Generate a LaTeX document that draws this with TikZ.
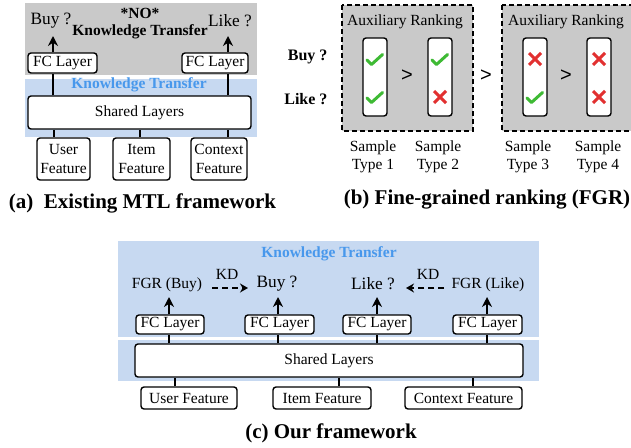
\documentclass[tikz,border=0pt]{standalone}
\usepackage{fontspec}
\setmainfont{Liberation Serif}
\newfontfamily\gtfont{Liberation Sans}
\usetikzlibrary{arrows.meta,calc}

\definecolor{panelgray}{RGB}{201,201,201}
\definecolor{ktblue}{RGB}{199,217,241}
\definecolor{kttext}{RGB}{72,152,236}
\definecolor{okgreen}{RGB}{62,186,52}
\definecolor{nored}{RGB}{226,48,48}

\tikzset{
  base/.style={font=\fontsize{15.5}{18.4}\selectfont},
  task/.style={font=\fontsize{17.3}{20}\selectfont},
  boldtxt/.style={font=\fontsize{15.5}{18.4}\selectfont\bfseries},
  qbold/.style={font=\fontsize{16}{19}\selectfont\bfseries},
  caption/.style={font=\fontsize{21}{24}\selectfont\bfseries},
  gtsign/.style={font=\fontsize{20}{22}\selectfont\gtfont},
  blk/.style={draw=black, line width=1.4pt, fill=white, rounded corners=3pt,
              inner sep=1pt, align=center, base},
  card/.style={draw=black, line width=1.4pt, fill=white, rounded corners=3pt,
               minimum width=24pt, minimum height=78pt, inner sep=0pt},
  dashbox/.style={draw=black, line width=1.6pt, dash pattern=on 5pt off 3pt, fill=panelgray},
  link/.style={line width=1.4pt},
  up/.style={line width=1.8pt, -{Stealth[length=10pt,width=10pt]}},
  kd/.style={line width=1.8pt, dash pattern=on 6pt off 4pt, -{Stealth[length=8pt,width=9pt]}},
  tick/.style={okgreen, line width=3pt, line cap=round, line join=round},
  xmark/.style={nored, line width=3pt},
}

% green tick and red cross centred on a given point
\newcommand{\okmark}[1]{\draw[tick] ($(#1)+(-8,1)$) -- ++(4.5,4.5) -- ++(11,-10);}
\newcommand{\nomark}[1]{\draw[xmark] ($(#1)+(-6,-6)$) -- ++(12,12) ($(#1)+(-6,6)$) -- ++(12,-12);}

\begin{document}
\begin{tikzpicture}[x=1pt, y=-1pt]
\useasboundingbox (0,0) rectangle (631,447);
\clip (0,0) rectangle (631,447);

% ---------------- (a) existing MTL framework ----------------
\fill[panelgray] (25,3) rectangle (257,75);
\fill[ktblue] (25,79) rectangle (257,137);

\node[boldtxt] (noA) at (140,13) {*NO*};
\node[boldtxt] (ktA) at (140,32) {Knowledge Transfer};
\node[task] (buyA) at (51,21) {Buy ?};
\node[task] (likeA) at (230,21) {Like ?};
\node[boldtxt, text=kttext] (ktbA) at (139,85) {Knowledge Transfer};

\node[blk, minimum width=69pt, minimum height=20pt] (fcA1) at (62.5,63) {FC Layer};
\node[blk, minimum width=66pt, minimum height=20pt] (fcA2) at (215,63) {FC Layer};
\node[blk, minimum width=223pt, minimum height=33pt] (shA) at (139.5,112.5) {Shared Layers};
\node[blk, minimum width=53pt, minimum height=42pt] (userA) at (63.5,159) {User\\Feature};
\node[blk, minimum width=57pt, minimum height=42pt] (itemA) at (141.5,159) {Item\\Feature};
\node[blk, minimum width=56pt, minimum height=42pt] (ctxA) at (219,159) {Context\\Feature};

\coordinate (colA1) at (53,0);
\coordinate (colA2) at (228,0);
\coordinate (tipA1) at (53,36);
\coordinate (tipA2) at (228,36);

\draw[link] (userA.north -| 54,0) -- (shA.south -| 54,0);
\draw[link] (itemA.north -| 140,0) -- (shA.south -| 140,0);
\draw[link] (ctxA.north -| colA2) -- (shA.south -| colA2);
\draw[link] (shA.north -| colA1) -- (fcA1.south -| colA1);
\draw[link] (shA.north -| colA2) -- (fcA2.south -| colA2);
\draw[up] (fcA1.north -| colA1) -- (tipA1);
\draw[up] (fcA2.north -| colA2) -- (tipA2);

\node[caption] (capA) at (142.5,203) {(a)\ \ Existing MTL framework};

% ---------------- (b) fine-grained ranking ----------------
\draw[dashbox] (342,5) rectangle (473,131);
\draw[dashbox] (502,5) rectangle (650,131);

\node[base] (auxB1) at (405,22) {Auxiliary Ranking};
\node[base] (auxB2) at (566,22) {Auxiliary Ranking};

\node[qbold, anchor=east] (buyB) at (331,57) {Buy ?};
\node[qbold, anchor=east] (likeB) at (331,99) {Like ?};

\node[card] (c1) at (375,77) {};
\node[card] (c2) at (440,77) {};
\node[card] (c3) at (535,77) {};
\node[card] (c4) at (599,77) {};

\node[gtsign] (gt1) at (407,76) {>};
\node[gtsign] (gt2) at (486,76) {>};
\node[gtsign] (gt3) at (566,76) {>};

\okmark{c1.center |- 0,59}
\okmark{c1.center |- 0,97}
\okmark{c2.center |- 0,59}
\nomark{c2.center |- 0,97}
\nomark{c3.center |- 0,59}
\okmark{c3.center |- 0,97}
\nomark{c4.center |- 0,59}
\nomark{c4.center |- 0,97}

\node[base, align=center] (t1) at (373,156.5) {Sample\\Type 1};
\node[base, align=center] (t2) at (438,156.5) {Sample\\Type 2};
\node[base, align=center] (t3) at (528,156.5) {Sample\\Type 3};
\node[base, align=center] (t4) at (598,156.5) {Sample\\Type 4};

\node[caption] (capB) at (487,200) {(b) Fine-grained ranking (FGR)};

% ---------------- (c) our framework ----------------
\fill[ktblue] (118,241) rectangle (539,337);
\fill[ktblue] (118,340) rectangle (539,381);

\node[boldtxt, text=kttext] (ktC) at (329,254) {Knowledge Transfer};

\node[base] (fgrbuy) at (167,285) {FGR (Buy)};
\node[task] (buyC) at (277,284) {Buy ?};
\node[task] (likeC) at (373,284) {Like ?};
\node[base] (fgrlike) at (488,285) {FGR (Like)};
\node[base] (kd1) at (227,274) {KD};
\node[base] (kd2) at (428,274) {KD};

\coordinate (kd1s) at (212,288);
\coordinate (kd1e) at (248,288);
\coordinate (kd2s) at (444,288);
\coordinate (kd2e) at (406,288);
\draw[kd] (kd1s) -- (kd1e);
\draw[kd] (kd2s) -- (kd2e);

\node[blk, minimum width=68pt, minimum height=19pt] (fc1) at (170,324.5) {FC Layer};
\node[blk, minimum width=69pt, minimum height=19pt] (fc2) at (279.5,324.5) {FC Layer};
\node[blk, minimum width=68pt, minimum height=19pt] (fc3) at (377,324.5) {FC Layer};
\node[blk, minimum width=69pt, minimum height=19pt] (fc4) at (487.5,324.5) {FC Layer};

\node[blk, minimum width=388pt, minimum height=33pt] (shC) at (329,360.5) {Shared Layers};

\node[blk, minimum width=96pt, minimum height=22pt] (userC) at (189,398) {User Feature};
\node[blk, minimum width=98pt, minimum height=22pt] (itemC) at (322,398) {Item Feature};
\node[blk, minimum width=117pt, minimum height=22pt] (ctxC) at (463.5,398) {Context Feature};

\draw[link] (userC.north -| 175,0) -- (shC.south -| 175,0);
\draw[link] (itemC.north -| 339,0) -- (shC.south -| 339,0);
\draw[link] (ctxC.north -| 473,0) -- (shC.south -| 473,0);

\foreach \f/\x in {fc1/169, fc2/278, fc3/377, fc4/487}{
  \draw[link] (shC.north -| \x,0) -- (\f.south -| \x,0);
  \draw[up] (\f.north -| \x,0) -- (\x,297);
}

\node[caption] (capC) at (331,433) {(c) Our framework};
\end{tikzpicture}
\end{document}
